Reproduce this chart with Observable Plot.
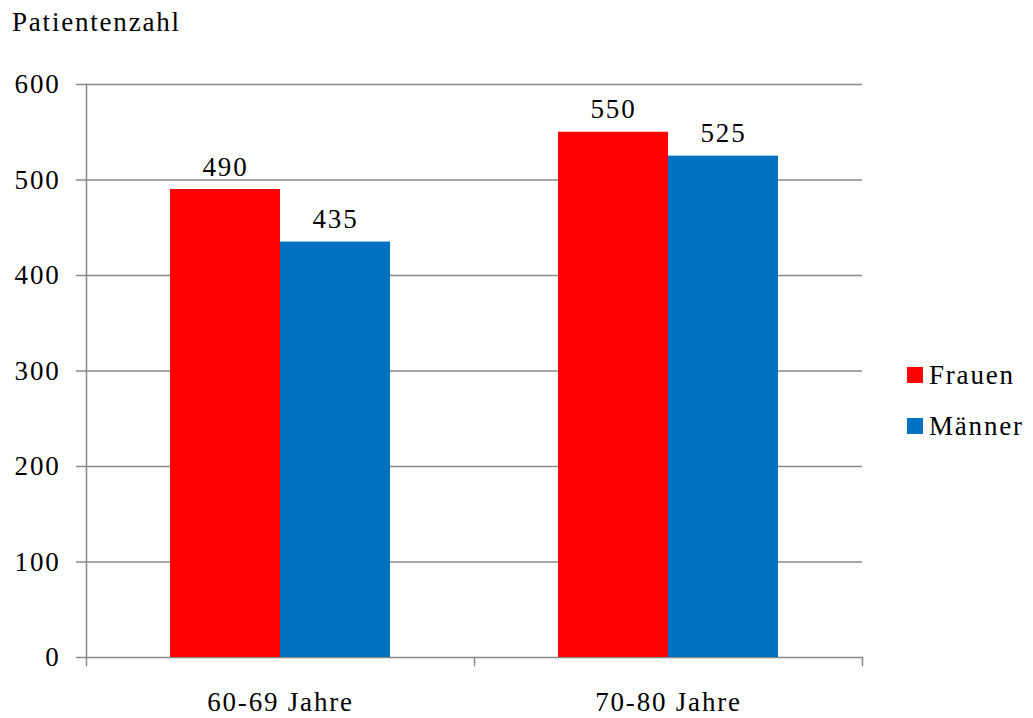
<!DOCTYPE html>
<html>
<head>
<meta charset="utf-8">
<script src="https://cdn.jsdelivr.net/npm/d3@7"></script>
<script src="https://cdn.jsdelivr.net/npm/@observablehq/plot@0.6"></script>
<style>
  body { margin: 0; background: #fff; }
  #wrap { position: relative; width: 1033px; height: 718px; font-family: 'Liberation Serif'; }
  #wrap svg { position: absolute; left: 0; top: 0; }
  #wrap svg, #wrap svg text { font-family: 'Liberation Serif' !important; letter-spacing: 1.8px; }
  .txt { position: absolute; font-family: 'Liberation Serif'; font-size: 27px; letter-spacing: 1.8px; color: #000; white-space: nowrap; line-height: 1; }
  .sw { position: absolute; width: 16px; height: 16px; }
</style>
</head>
<body>
<div id="wrap"></div>
<script>
const ageGroups = ["60-69 Jahre", "70-80 Jahre"];
const seriesNames = ["Frauen", "Männer"];
const frauen = [490, 550];
const maenner = [435, 525];
const yTicks = [0, 100, 200, 300, 400, 500, 600];
const seriesColors = ["#ff0000", "#0070c0"];
const yTitle = "Patientenzahl";

const rows = [];
ageGroups.forEach((a, i) => {
  rows.push({age: a, sex: seriesNames[0], value: frauen[i]});
  rows.push({age: a, sex: seriesNames[1], value: maenner[i]});
});

const gray = "#898989";
const fs = 27;

const chart = Plot.plot({
  width: 1033,
  height: 718,
  marginLeft: 86,
  marginRight: 171,
  marginTop: 84,
  marginBottom: 61,
  style: {fontFamily: "'Liberation Serif'", fontSize: fs + "px", color: "#000", background: "#fff"},
  fx: {domain: ageGroups, padding: 0, label: null},
  x: {domain: seriesNames, paddingInner: 0, paddingOuter: 0.75, axis: null},
  y: {domain: [0, 600], label: null},
  color: {domain: seriesNames, range: seriesColors},
  marks: [
    Plot.gridY(yTicks, {stroke: gray, strokeOpacity: 1, strokeWidth: 1.5}),
    Plot.frame({anchor: "left", facetAnchor: "left", stroke: gray, strokeWidth: 1.5}),
    Plot.frame({anchor: "left", insetTop: 573, insetBottom: -8, stroke: gray, strokeWidth: 1.5}),
    Plot.frame({anchor: "right", facetAnchor: "right", insetTop: 573, insetBottom: -8, stroke: gray, strokeWidth: 1.5}),
    Plot.barY(rows, {fx: "age", x: "sex", y: "value", fill: "sex"}),
    Plot.text(rows, {fx: "age", x: "sex", y: "value", text: d => String(d.value), lineAnchor: "bottom", dy: -14, fontSize: fs, fill: "#000"}),
    Plot.axisY(yTicks, {tickSize: 10, tickPadding: 16, stroke: gray, strokeWidth: 1.5, fill: "#000", fontSize: fs, label: null, tickFormat: d => String(d)}),
    Plot.axisFx({anchor: "bottom", tickSize: 0, tickPadding: 34, fill: "#000", fontSize: fs, label: null})
  ]
});

const wrap = document.getElementById("wrap");
wrap.appendChild(chart);

const title = document.createElement("div");
title.className = "txt";
title.textContent = yTitle;
title.style.left = "12px";
title.style.top = "9px";
wrap.appendChild(title);

seriesNames.forEach((s, i) => {
  const sw = document.createElement("div");
  sw.className = "sw";
  sw.style.background = seriesColors[i];
  sw.style.left = "907px";
  sw.style.top = (367 + i * 51) + "px";
  wrap.appendChild(sw);
  const t = document.createElement("div");
  t.className = "txt";
  t.textContent = s;
  t.style.left = "929px";
  t.style.top = (362 + i * 51) + "px";
  wrap.appendChild(t);
});
</script>
</body>
</html>
